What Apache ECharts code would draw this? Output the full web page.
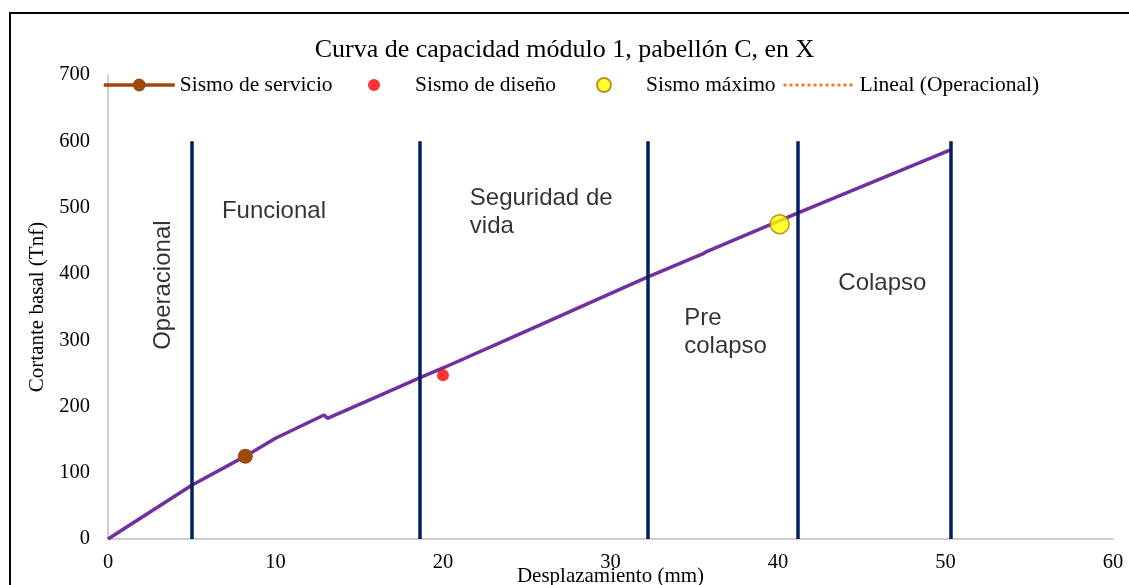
<!DOCTYPE html>
<html>
<head>
<meta charset="utf-8">
<script src="https://cdn.jsdelivr.net/npm/echarts@6/dist/echarts.min.js"></script>
<style>
  html, body { margin: 0; padding: 0; background: #fff; }
  #chart { width: 1129px; height: 585px; }
</style>
</head>
<body>
<div id="chart"></div>
<script>
// Capacity curve (displacement mm, base shear Tnf)
var curveX = [0, 5, 8.2, 10, 12.9, 13.1, 16, 18.6, 20, 25, 32.2, 35.5, 35.7, 41.2, 50.3];
var curveY = [0, 81, 125, 152, 187, 182, 214, 243, 258, 314, 395, 430, 433, 492, 587];

// Performance points
var servicio = [8.2, 125];
var diseno = [20.0, 247];
var maximo = [40.1, 475];

// Linear trend of the operational range
var linealX = [0, 5];
var linealY = [0, 81];

// Performance level boundaries (vertical lines up to 600)
var limits = [5, 18.6, 32.2, 41.2, 50.3];
var limitTop = 600;

// Zone names and where they sit
var zoneNames = ['Operacional', 'Funcional', 'Seguridad de\nvida', 'Pre\ncolapso', 'Colapso'];
var zoneX = [3.3, 6.8, 21.6, 34.4, 43.6];
var zoneY = [383, 495, 493, 312, 386];

var xTicks = [0, 60, 10];
var yTicks = [0, 700, 100];

var myChart = echarts.init(document.getElementById('chart'));

var serif = '"Liberation Serif", "Times New Roman", serif';
var sans = '"Liberation Sans", Arial, sans-serif';

function pairs(xs, ys) {
    var out = [];
    for (var i = 0; i < xs.length; i++) out.push([xs[i], ys[i]]);
    return out;
}

var limitLines = limits.map(function (x) {
    return [{ coord: [x, 0] }, { coord: [x, limitTop] }];
});

var zoneData = zoneNames.map(function (n, i) {
    return {
        name: n,
        value: [zoneX[i], zoneY[i]],
        label: i === 0
            ? { rotate: 90, align: 'center', verticalAlign: 'middle' }
            : { align: 'left', verticalAlign: 'middle' }
    };
});

// one legend per entry so each sits where the original puts it
var legendText = { fontFamily: serif, fontSize: 21.5, color: '#000' };
function legendAt(left, name, w, h, extra) {
    return Object.assign({
        left: left,
        top: 74,
        padding: 0,
        itemWidth: w,
        itemHeight: h,
        textStyle: Object.assign({}, legendText),
        data: [name]
    }, extra || {});
}

var option = {
    animation: false,
    backgroundColor: '#fff',
    title: {
        text: 'Curva de capacidad módulo 1, pabellón C, en X',
        left: 'center',
        top: 32,
        textStyle: { fontFamily: serif, fontSize: 26, fontWeight: 'normal', color: '#000' }
    },
    legend: [
        legendAt(102, { name: 'Sismo de servicio', lineStyle: { width: 3.5 } }, 71, 16),
        legendAt(368, 'Sismo de diseño', 12, 12, { textStyle: Object.assign({ padding: [0, 0, 0, 30] }, legendText) }),
        legendAt(596, 'Sismo máximo', 14, 14, { textStyle: Object.assign({ padding: [0, 0, 0, 30] }, legendText) }),
        legendAt(782, { name: 'Lineal (Operacional)', lineStyle: { width: 3 }, itemStyle: { color: 'rgba(0,0,0,0)', borderWidth: 0 } }, 71, 16)
    ],
    grid: { left: 108, right: 16, top: 75, bottom: 46, outerBoundsMode: 'none' },
    xAxis: {
        type: 'value',
        min: xTicks[0], max: xTicks[1], interval: xTicks[2],
        name: 'Desplazamiento (mm)',
        nameLocation: 'middle',
        nameGap: 27,
        nameMoveOverlap: false,
        nameTextStyle: { fontFamily: serif, fontSize: 21, color: '#000' },
        axisLine: { lineStyle: { color: '#bfbfbf', width: 1.5 } },
        axisTick: { show: false },
        splitLine: { show: false },
        axisLabel: { fontFamily: serif, fontSize: 20.5, color: '#000', margin: 13 }
    },
    yAxis: {
        type: 'value',
        min: yTicks[0], max: yTicks[1], interval: yTicks[2],
        name: 'Cortante basal (Tnf)',
        nameLocation: 'middle',
        nameGap: 60,
        nameMoveOverlap: false,
        nameTextStyle: { fontFamily: serif, fontSize: 21, color: '#000' },
        axisLine: { show: true, lineStyle: { color: '#bfbfbf', width: 1.5 } },
        axisTick: { show: false },
        splitLine: { show: false },
        axisLabel: { fontFamily: serif, fontSize: 20.5, color: '#000', margin: 18 }
    },
    graphic: [{
        type: 'rect',
        shape: { x: 10, y: 13, width: 1200, height: 700 },
        style: { fill: 'none', stroke: '#000', lineWidth: 2 },
        silent: true
    }],
    series: [
        {
            name: 'Lineal (Operacional)',
            type: 'line',
            data: pairs(linealX, linealY),
            symbol: 'none',
            z: 1,
            lineStyle: { color: '#ed7d31', width: 3, type: 'dotted' },
            itemStyle: { color: '#ed7d31' }
        },
        {
            name: 'Curva',
            type: 'line',
            data: pairs(curveX, curveY),
            symbol: 'none',
            z: 2,
            lineStyle: { color: '#7030a0', width: 3.5 },
            markLine: {
                silent: true,
                symbol: 'none',
                label: { show: false },
                lineStyle: { color: '#002060', width: 3.5, type: 'solid' },
                data: limitLines
            }
        },
        {
            name: 'Zonas',
            type: 'scatter',
            data: zoneData,
            symbolSize: 0,
            z: 3,
            label: {
                show: true,
                formatter: '{b}',
                fontFamily: sans,
                fontSize: 24,
                lineHeight: 28,
                color: '#000'
            }
        },
        {
            name: 'Sismo de servicio',
            type: 'line',
            data: [servicio],
            symbol: 'circle',
            symbolSize: 15,
            z: 5,
            itemStyle: { color: '#9e480e' },
            lineStyle: { color: '#9e480e', width: 3.5 }
        },
        {
            name: 'Sismo de diseño',
            type: 'scatter',
            data: [diseno],
            symbol: 'circle',
            symbolSize: 12,
            z: 5,
            itemStyle: { color: '#ff0000' }
        },
        {
            name: 'Sismo máximo',
            type: 'scatter',
            data: [maximo],
            symbol: 'circle',
            symbolSize: 19,
            z: 5,
            itemStyle: { color: '#ffff00', borderColor: '#a08000', borderWidth: 1.5 }
        }
    ]
};

myChart.setOption(option);

window.onresize = function () {
    myChart.resize();
};
</script>
</body>
</html>
